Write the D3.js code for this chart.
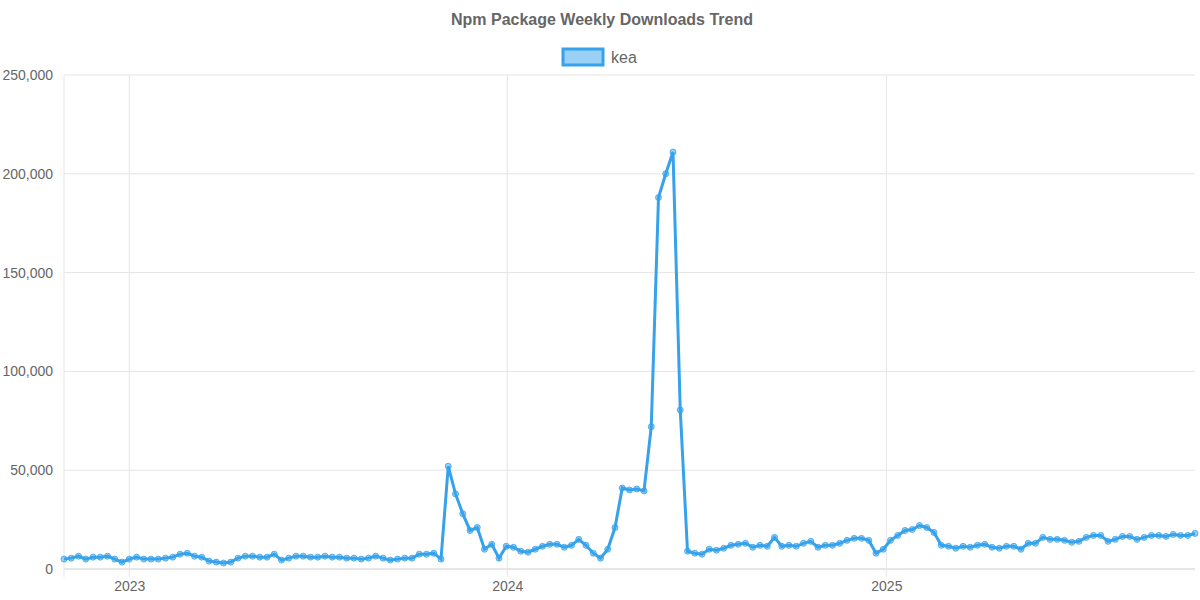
<!DOCTYPE html>
<html>
<head>
<meta charset="utf-8">
<script src="https://cdn.jsdelivr.net/npm/d3@7"></script>
<style>
  body { margin: 0; background: #fff; font-family: "Liberation Sans", Arial, sans-serif; }
</style>
</head>
<body>
<script>
// Weekly downloads for "kea", one value per week starting 2022-10-30
var seriesName = "kea";
var startDate = new Date(2022, 9, 30);
var downloads = [
  5000, 5500, 6500, 5000, 6000, 6000, 6500, 5000, 3500, 5000,
  6000, 5000, 5000, 5000, 5500, 6000, 7500, 8000, 6500, 6000,
  4000, 3500, 3000, 3500, 5500, 6500, 6500, 6000, 6000, 7500,
  4500, 5500, 6500, 6500, 6000, 6000, 6500, 6000, 6000, 5500,
  5500, 5000, 5500, 6500, 5500, 4500, 5000, 5500, 5500, 7500,
  7500, 8000, 5000,
  52000, 38000, 28000, 19500, 21000, 10000, 12500, 5500, 11500, 11000,
  9000, 8500, 10000, 11500, 12500, 12500, 11000, 12000, 15000, 12000,
  8000, 5500, 10000, 21000, 41000, 40000, 40500, 39500, 72000, 188000,
  200000, 211000, 80500, 9000, 8000, 7500, 10000, 9500, 10500, 12000,
  12500, 13000, 11000, 12000, 11500, 16000, 11500, 12000, 11500, 13000,
  14000, 11000, 12000, 12000, 13000, 14500, 15500, 15500, 14500, 8000,
  10000, 14500, 17000, 19500, 20000, 22000, 21000, 18500, 12000, 11500,
  10500, 11500, 11000, 12000, 12500, 11000, 10500, 11500, 11500, 10000,
  13000, 13000, 16000, 15000, 15000, 14500, 13500, 14000, 16000, 17000,
  17000, 14000, 15000, 16500, 16500, 15000, 16000, 17000, 17000, 16500,
  17500, 17000, 17000, 18000
];
var yTicks = [0, 50000, 100000, 150000, 200000, 250000];

var data = downloads.map(function(v, i) {
  return { date: d3.timeWeek.offset(startDate, i), value: v };
});

var svgWidth = 1200, svgHeight = 600;
var margin = { top: 75, right: 5, bottom: 31, left: 64 };
var chartWidth = svgWidth - margin.left - margin.right;
var chartHeight = svgHeight - margin.top - margin.bottom;

var svg = d3.select("body").append("svg")
  .attr("width", svgWidth).attr("height", svgHeight);

svg.append("text")
  .attr("x", 602).attr("y", 25)
  .attr("text-anchor", "middle")
  .attr("font-size", 16).attr("font-weight", "bold")
  .attr("fill", "#666")
  .text("Npm Package Weekly Downloads Trend");

// legend
svg.append("rect")
  .attr("x", 563).attr("y", 49).attr("width", 40).attr("height", 16)
  .attr("fill", "rgba(54,162,235,0.5)").attr("stroke", "#36a2eb").attr("stroke-width", 3);
svg.append("text")
  .attr("x", 611).attr("y", 63).attr("font-size", 16).attr("fill", "#666")
  .text(seriesName);

var chartGroup = svg.append("g")
  .attr("transform", `translate(${margin.left}, ${margin.top})`);

var x = d3.scaleTime()
  .domain(d3.extent(data, d => d.date))
  .range([0, chartWidth]);
var y = d3.scaleLinear()
  .domain([0, 250000])
  .range([chartHeight, 0]);

// grid
chartGroup.selectAll(".hgrid").data(yTicks).enter().append("line")
  .attr("x1", 0).attr("x2", chartWidth)
  .attr("y1", d => y(d)).attr("y2", d => y(d))
  .attr("stroke", d => d === 0 ? "#ccc" : "#e5e5e5");
var yearTicks = x.ticks(d3.timeYear);
chartGroup.selectAll(".vgrid").data(yearTicks).enter().append("line")
  .attr("x1", d => x(d)).attr("x2", d => x(d))
  .attr("y1", 0).attr("y2", chartHeight + 8)
  .attr("stroke", "#e5e5e5");
chartGroup.append("line")
  .attr("x1", 0).attr("x2", 0).attr("y1", 0).attr("y2", chartHeight + 8)
  .attr("stroke", "#e5e5e5");

var leftAxis = d3.axisLeft(y).tickValues(yTicks).tickSize(0).tickPadding(11)
  .tickFormat(d3.format(","));
chartGroup.append("g").call(leftAxis)
  .call(g => g.select(".domain").remove())
  .selectAll("text").attr("font-size", 14).attr("fill", "#666")
  .attr("font-family", "Liberation Sans, Arial, sans-serif");

var bottomAxis = d3.axisBottom(x).tickValues(yearTicks).tickSize(0).tickPadding(12)
  .tickFormat(d3.timeFormat("%Y"));
chartGroup.append("g").attr("transform", `translate(0, ${chartHeight})`).call(bottomAxis)
  .call(g => g.select(".domain").remove())
  .selectAll("text").attr("font-size", 14).attr("fill", "#666")
  .attr("font-family", "Liberation Sans, Arial, sans-serif");

var line = d3.line().x(d => x(d.date)).y(d => y(d.value));
chartGroup.append("path").datum(data)
  .attr("d", line).attr("fill", "none")
  .attr("stroke", "#36a2eb").attr("stroke-width", 3).attr("stroke-linejoin", "miter");

chartGroup.selectAll(".pt").data(data).enter().append("circle")
  .attr("cx", d => x(d.date)).attr("cy", d => y(d.value)).attr("r", 3)
  .attr("fill", "rgba(54,162,235,0.5)").attr("stroke", "rgba(54,162,235,0.8)").attr("stroke-width", 1);
</script>
</body>
</html>
